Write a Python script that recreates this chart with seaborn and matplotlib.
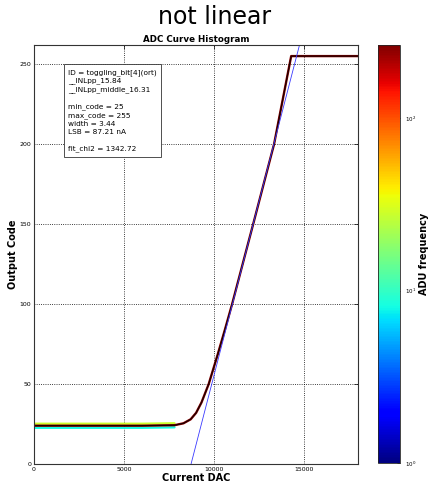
import numpy as np
import pandas as pd
import matplotlib
matplotlib.use("Agg")
import matplotlib.pyplot as plt
from matplotlib.colors import LogNorm
from matplotlib.cm import ScalarMappable
import seaborn as sns

sns.set_style("white")
plt.rcParams["font.family"] = ["DejaVu Sans"]
plt.rcParams.update({"text.color": "black", "axes.labelcolor": "black",
                     "xtick.color": "black", "ytick.color": "black"})

# curve (DAC value -> most frequent output code)
dac_pts = [0, 2000, 4000, 6000, 7800, 8300, 8700, 9000, 9300, 9700,
           10200, 10600, 11000, 12170, 13330, 14280, 16000, 18000]
code_pts = [24, 24, 24, 24, 24.3, 25.5, 28, 32, 38.5, 50,
            68.5, 84, 100, 150, 200, 255, 255, 255]

# side bands of the histogram in the flat low part (code offset, count)
edge_dac = [0, 2000, 4000, 6000, 7800]
edge_code = [24, 24, 24, 24, 24.3]
edge_offsets = [-1.3, 1.2]
edge_counts = [8, 28]
center_count = 240

# linear fit line
fit_dac = [8720, 14743]
fit_code = [0, 262]

info = ("ID = toggling_bit[4](ort)\n__INLpp_15.84\n__INLpp_middle_16.31\n\n"
        "min_code = 25\nmax_code = 255\nwidth = 3.44\nLSB = 87.21 nA\n\n"
        "fit_chi2 = 1342.72")

norm = LogNorm(vmin=1, vmax=265)
cmap = plt.get_cmap("jet")

rows = []
for off, cnt in zip(edge_offsets, edge_counts):
    for d, c in zip(edge_dac, edge_code):
        rows.append({"dac": d, "code": c + off, "count": cnt})
for d, c in zip(dac_pts, code_pts):
    rows.append({"dac": d, "code": c, "count": center_count})
bands = pd.DataFrame(rows)

fig = plt.figure(figsize=(4.3, 4.88), dpi=100)
ax = fig.add_axes([0.079, 0.049, 0.754, 0.859])
cax = fig.add_axes([0.879, 0.051, 0.051, 0.857])

sns.lineplot(data=bands, x="dac", y="code", hue="count", palette=cmap,
             hue_norm=norm, linewidth=1.7, legend=False, ax=ax,
             estimator=None, sort=False, units="count")
sns.lineplot(x=dac_pts, y=code_pts, color="black", linewidth=0.9,
             alpha=0.85, ax=ax, estimator=None, sort=False)
sns.lineplot(x=fit_dac, y=fit_code, color="#3a3aff", linewidth=0.6,
             ax=ax, estimator=None, sort=False)

ax.set_xlim(0, 18000)
ax.set_ylim(0, 262)
ax.set_xticks([0, 5000, 10000, 15000])
ax.set_yticks([0, 50, 100, 150, 200, 250])
ax.tick_params(direction="in", labelsize=4.5, length=3, width=0.5, pad=2,
               top=True, right=True)
ax.grid(True, color="black", linestyle=":", linewidth=0.6)
for s in ax.spines.values():
    s.set_linewidth(0.8)
    s.set_color("#333333")
ax.set_xlabel("Current DAC", fontsize=7, fontweight="bold", labelpad=1)
ax.set_ylabel("Output Code", fontsize=7, fontweight="bold", labelpad=1)
ax.set_title("ADC Curve Histogram", fontsize=6.3, fontweight="bold", pad=2)

ax.text(0.105, 0.943, info, transform=ax.transAxes, fontsize=5.3, va="top",
        ha="left", linespacing=1.42,
        bbox=dict(boxstyle="square,pad=0.6", facecolor="white",
                  edgecolor="#333333", linewidth=0.6))

sm = ScalarMappable(norm=norm, cmap=cmap)
cb = fig.colorbar(sm, cax=cax)
cb.outline.set_linewidth(0.6)
cb.ax.tick_params(labelsize=4, length=2, width=0.5, direction="in")
cb.ax.tick_params(which="minor", length=0)
cb.set_label("ADU frequency", fontsize=7, fontweight="bold", labelpad=2)

fig.text(0.5, 0.965, "not linear", fontsize=17, ha="center", va="center")

fig.savefig("out.png", dpi=100)
